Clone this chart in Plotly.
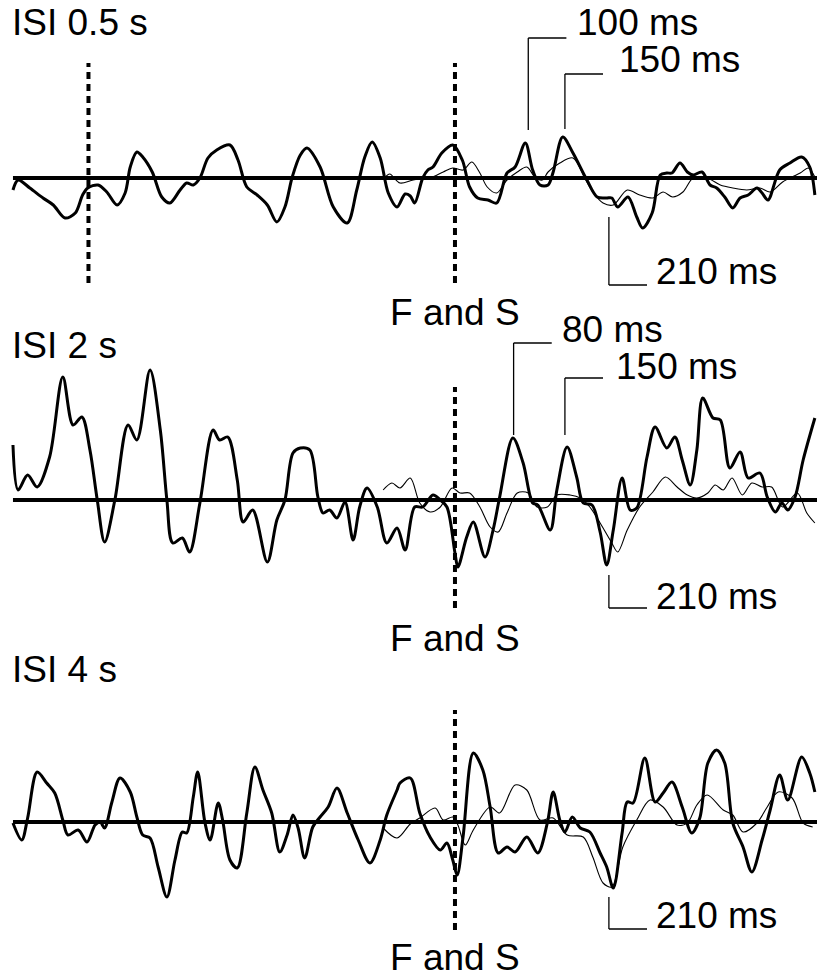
import plotly.graph_objects as go

# ---------------- data: time (ms, 0 = F and S onset), amplitude (µV) ----------------
# Panel 1: ISI 0.5 s
p1_thick_t = [-603, -596, -580, -562, -548, -532, -518, -508, -501, -487, -475, -461, -450, -443, -434, -426,
              -413, -400, -389, -375, -366, -357, -348, -337, -325, -307, -296, -284, -270, -256, -243, -232,
              -222, -211, -202, -184, -166, -147, -134, -123, -113, -102, -91, -79, -68, -61, -55, -44, -37,
              -30, -18, -3, 10, 20, 31, 45, 57, 71, 82, 96, 106, 116, 127, 134, 147, 161, 180, 194, 207, 214,
              222, 236, 248, 256, 269, 280, 289, 296, 307, 317, 325, 337, 348, 357, 368, 379, 389, 400, 412,
              419, 427, 443, 457, 473, 484, 491]
p1_thick_v = [-1.2, -0.2, -1.0, -2.0, -2.7, -4.0, -3.5, -1.7, -1.0, -0.7, -1.4, -2.7, -1.5, 1.1, 2.6, 2.1,
              0.6, -1.9, -2.5, -1.2, -0.5, -0.7, 0.0, 2.0, 2.8, 3.3, 1.8, -0.9, -1.7, -2.7, -4.4, -2.9,
              0.1, 2.3, 3.0, 1.1, -2.9, -4.5, -1.2, 2.1, 3.6, 2.0, -1.5, -2.9, -1.6, -1.8, -2.5, 0.0, 0.8,
              1.1, 2.5, 3.3, 1.8, -0.9, -2.0, -2.2, -2.5, 0.5, 1.1, 3.5, 0.8, -0.7, -0.7, 0.6, 4.1, 2.5,
              -0.2, -1.9, -2.0, -2.0, -2.9, -1.9, -3.9, -5.0, -3.5, 0.3, 0.5, 0.5, 1.5, 0.6, 0.3, 0.6, -0.7,
              -1.0, -1.9, -3.0, -2.0, -1.7, -1.0, -1.5, -2.2, 0.8, 1.5, 2.1, 1.1, -1.7]
p1_thin_t = [-96, -89, -75, -57, -34, -16, -3, 11, 23, 34, 44, 57, 71, 85, 98, 109, 119, 127, 143, 161, 177,
             188, 202, 216, 235, 252, 270, 284, 297, 311, 325, 344, 362, 379, 398, 416, 430, 447, 471, 482, 491]
p1_thin_v = [0.0, 0.4, -0.5, -0.2, 0.0, 0.6, 1.0, 0.8, 1.6, 0.5, -0.9, -1.5, -0.2, 0.6, 1.1, 0.1, -0.2, 0.6,
             1.5, 2.0, 0.0, -1.4, -2.5, -2.7, -1.2, -1.7, -2.0, -1.4, -1.9, -1.4, 0.0, 0.0, -0.7, -1.0, -1.2,
             -1.0, -1.4, -0.4, 0.5, 1.0, 0.1]

# Panel 2: ISI 2 s
p2_thick_t = [-603, -596, -583, -570, -553, -535, -521, -509, -498, -488, -478, -464, -446, -434, -416, -402,
              -393, -385, -372, -362, -348, -330, -321, -310, -297, -289, -276, -256, -243, -232, -221, -211,
              -198, -187, -180, -171, -161, -150, -139, -130, -120, -106, -93, -79, -68, -55, -44, -30, -20,
              -11, 0, 4, 16, 25, 41, 52, 61, 79, 93, 106, 113, 130, 139, 153, 166, 175, 187, 198, 207, 216,
              228, 239, 248, 262, 273, 289, 300, 310, 321, 330, 338, 352, 362, 375, 389, 400, 416, 426, 437,
              446, 454, 464, 475, 491]
p2_thick_v = [5.5, 1.0, 2.5, 1.3, 4.3, 12.3, 7.5, 8.3, 5.0, 0.0, -4.2, 0.0, 7.5, 6.0, 13.0, 7.0,
              0.0, -4.3, -3.8, -5.2, -0.3, 7.0, 6.0, 6.3, 2.0, -2.2, -1.0, -6.2, -2.0, 0.0, 4.7, 5.2,
              5.0, 0.3, -1.3, -1.0, -1.8, -0.2, -4.0, -0.7, 1.2, -0.7, -4.3, -2.8, -5.0, -0.7, -0.7, 0.5, 0.0,
              -0.7, -5.3, -6.7, -3.7, -2.2, -5.7, -3.0, 0.3, 6.2, 3.7, -0.3, -0.5, -3.0, 1.0, 5.3, 2.3, -0.3,
              -0.5, -3.2, -6.5, -3.0, 2.2, -1.0, -0.8, 4.3, 7.3, 5.2, 6.3, 4.0, 1.5, 5.0, 10.2, 8.2, 8.0,
              3.2, 4.8, 2.2, 2.7, 0.3, -1.2, -0.3, -1.0, 0.3, 4.0, 8.2]
p2_thin_t = [-98, -86, -75, -61, -48, -34, -20, -4, 7, 20, 34, 48, 59, 71, 85, 100, 112, 126, 139, 157, 171,
             184, 198, 214, 222, 235, 252, 270, 287, 303, 317, 330, 345, 355, 366, 378, 392, 405, 419, 432,
             447, 467, 480, 491]
p2_thin_v = [1.0, 1.7, 1.2, 2.2, -0.3, -1.2, -0.7, 1.2, 0.7, 0.7, -0.7, -2.7, -3.2, -1.3, 0.7, 0.7, -0.7,
             -0.7, 0.5, 0.5, 0.2, -0.7, -2.3, -4.3, -5.2, -3.0, -0.7, 0.8, 2.3, 1.3, 0.5, 0.2, 0.7, 1.5, 1.0,
             2.2, 0.5, 1.7, 1.3, 1.3, -0.7, 0.7, -1.3, -2.3]

# Panel 3: ISI 4 s
p3_thick_t = [-603, -591, -583, -570, -557, -546, -535, -528, -514, -502, -491, -484, -478, -468, -457, -443,
              -434, -426, -416, -405, -393, -382, -372, -366, -357, -351, -341, -334, -323, -317, -307, -297,
              -284, -273, -262, -250, -239, -229, -221, -214, -205, -194, -184, -173, -161, -147, -132, -116,
              -102, -93, -79, -75, -61, -48, -34, -20, -11, -3, 3, 11, 25, 38, 48, 59, 71, 82, 98, 113, 126,
              134, 143, 150, 160, 171, 184, 198, 207, 216, 228, 235, 243, 259, 273, 284, 296, 310, 323, 334,
              345, 357, 368, 379, 393, 405, 419, 430, 443, 454, 473, 484, 491]
p3_thick_v = [-0.1, -1.8, 0.4, 5.0, 3.9, 2.9, 0.2, -1.3, -0.8, -2.0, -0.3, 0.0, -0.6, 2.0, 4.4, 3.0,
              0.5, -1.3, -1.6, -4.5, -7.5, -3.8, -1.0, -1.1, 2.5, 5.0, -0.1, -1.8, 1.9, 0.2, -3.8, -4.6,
              0.9, 5.5, 3.2, 0.9, -3.0, -1.3, 0.7, -0.6, -3.6, -0.5, 0.5, 1.5, 3.4, 0.9, -1.8, -4.1,
              -1.8, 0.7, 3.2, 3.9, 4.4, 0.9, -1.5, -2.8, -2.1, -3.8, -5.3, -1.5, 6.9, 5.2, 1.5, -3.1, -2.5,
              -3.0, -1.5, -3.1, -0.1, 3.0, 0.2, -1.0, 0.5, -0.6, -1.0, -3.1, -4.5, -6.6, -1.1, 2.0, 1.9,
              6.4, 2.0, 2.9, 4.0, 1.5, -1.1, 0.4, 5.9, 7.2, 5.9, -0.1, -2.5, -5.0, -1.8, 1.2, 4.7, 2.2, 6.5,
              4.9, 3.0]
p3_thin_t = [-98, -79, -61, -48, -27, -16, -3, 4, 14, 25, 48, 61, 82, 98, 116, 134, 153, 175, 188, 202, 214,
             229, 248, 266, 284, 303, 317, 330, 344, 366, 379, 393, 412, 426, 441, 460, 475, 488]
p3_thin_v = [-0.6, -1.6, -0.2, 0.4, 1.4, 0.2, 0.5, -0.3, -2.3, -0.8, 1.5, 0.9, 3.7, 3.2, 0.2, 0.4, -1.3,
             -1.5, -3.5, -6.1, -6.5, -2.5, 0.2, 2.2, 1.5, -0.3, -0.1, 1.7, 2.7, 1.2, 0.7, -1.0, -0.1, 1.5,
             3.0, 2.4, -0.1, -0.5]

panel_titles = ["ISI 0.5 s", "ISI 2 s", "ISI 4 s"]
stim_label = "F and S"
p1_latencies = [100, 150, 210]
p2_latencies = [80, 150, 210]
p3_latencies = [210]
p1_prev_stim = -500  # previous stimulus onset for ISI 0.5 s

# ---------------- layout helpers ----------------
W, H = 817, 979
X_RANGE = [-620.7, 493.9]
BASE_PX = [178, 500, 822]          # baseline pixel rows of the panels
AMP_PX = 10.0                      # pixels per µV


def py(px):
    return 1 - px / H


def px_x(px):
    return px / W


FONT = dict(family="Liberation Sans, Arial, Helvetica, sans-serif", size=37, color="black")

fig = go.Figure()

panels = [
    (p1_thick_t, p1_thick_v, p1_thin_t, p1_thin_v),
    (p2_thick_t, p2_thick_v, p2_thin_t, p2_thin_v),
    (p3_thick_t, p3_thick_v, p3_thin_t, p3_thin_v),
]
yrefs = ["y", "y2", "y3"]
for i, (tt, tv, nt, nv) in enumerate(panels):
    fig.add_trace(go.Scatter(x=nt, y=nv, mode="lines", yaxis=yrefs[i], hoverinfo="skip",
                             line=dict(color="black", width=1.1, shape="spline", smoothing=0.9),
                             showlegend=False))
    fig.add_trace(go.Scatter(x=tt, y=tv, mode="lines", yaxis=yrefs[i], hoverinfo="skip",
                             line=dict(color="black", width=3.0, shape="spline", smoothing=0.9),
                             showlegend=False))

shapes = []
for i in range(3):
    shapes.append(dict(type="line", xref="x", yref=yrefs[i], x0=p1_thick_t[0], x1=X_RANGE[1],
                       y0=0, y1=0, line=dict(color="black", width=4)))

# dashed stimulus markers (top px, bottom px)
dash_spans = [(63, 283), (387, 608), (710, 930)]
for i, (t, b) in enumerate(dash_spans):
    shapes.append(dict(type="line", xref="x", yref="paper", x0=0, x1=0, y0=py(b), y1=py(t),
                       line=dict(color="black", width=4, dash="7px,5px")))
shapes.append(dict(type="line", xref="x", yref="paper", x0=p1_prev_stim, x1=p1_prev_stim,
                   y0=py(283), y1=py(63), line=dict(color="black", width=4, dash="7px,5px")))

TICK_MS = 52
annotations = []


def leader(lat, y_end_px, y_bar_px, text_left_px, text_mid_px):
    shapes.append(dict(type="line", xref="x", yref="paper", x0=lat, x1=lat,
                       y0=py(y_end_px), y1=py(y_bar_px), line=dict(color="black", width=1.3)))
    shapes.append(dict(type="line", xref="x", yref="paper", x0=lat, x1=lat + TICK_MS,
                       y0=py(y_bar_px), y1=py(y_bar_px), line=dict(color="black", width=1.3)))
    annotations.append(dict(text=f"{lat} ms", xref="paper", yref="paper", x=px_x(text_left_px),
                            y=py(text_mid_px), xanchor="left", yanchor="middle", showarrow=False,
                            font=FONT))


# panel 1
leader(p1_latencies[0], 130, 38, 575, 23)
leader(p1_latencies[1], 129, 74, 617, 60)
leader(p1_latencies[2], 217, 285, 654, 271)
# panel 2
leader(p2_latencies[0], 435, 343, 560, 330)
leader(p2_latencies[1], 435, 378, 614, 366)
leader(p2_latencies[2], 575, 608, 654, 596)
# panel 3
leader(p3_latencies[0], 897, 929, 654, 915)

for title, mid in zip(panel_titles, [23, 345, 669]):
    annotations.append(dict(text=title, xref="paper", yref="paper", x=px_x(10), y=py(mid),
                            xanchor="left", yanchor="middle", showarrow=False, font=FONT))
for mid in [313, 638, 957]:
    annotations.append(dict(text=stim_label, xref="x", yref="paper", x=0, y=py(mid),
                            xanchor="center", yanchor="middle", showarrow=False, font=FONT))

axis_off = dict(visible=False, showgrid=False, zeroline=False, fixedrange=True)
fig.update_layout(
    width=W, height=H, margin=dict(l=0, r=0, t=0, b=0),
    paper_bgcolor="white", plot_bgcolor="white",
    xaxis=dict(range=X_RANGE, **axis_off),
    yaxis=dict(range=[(BASE_PX[0] - H) / AMP_PX, BASE_PX[0] / AMP_PX], **axis_off),
    yaxis2=dict(range=[(BASE_PX[1] - H) / AMP_PX, BASE_PX[1] / AMP_PX], overlaying="y", **axis_off),
    yaxis3=dict(range=[(BASE_PX[2] - H) / AMP_PX, BASE_PX[2] / AMP_PX], overlaying="y", **axis_off),
    shapes=shapes, annotations=annotations, showlegend=False,
)

fig.write_html("out.html")
